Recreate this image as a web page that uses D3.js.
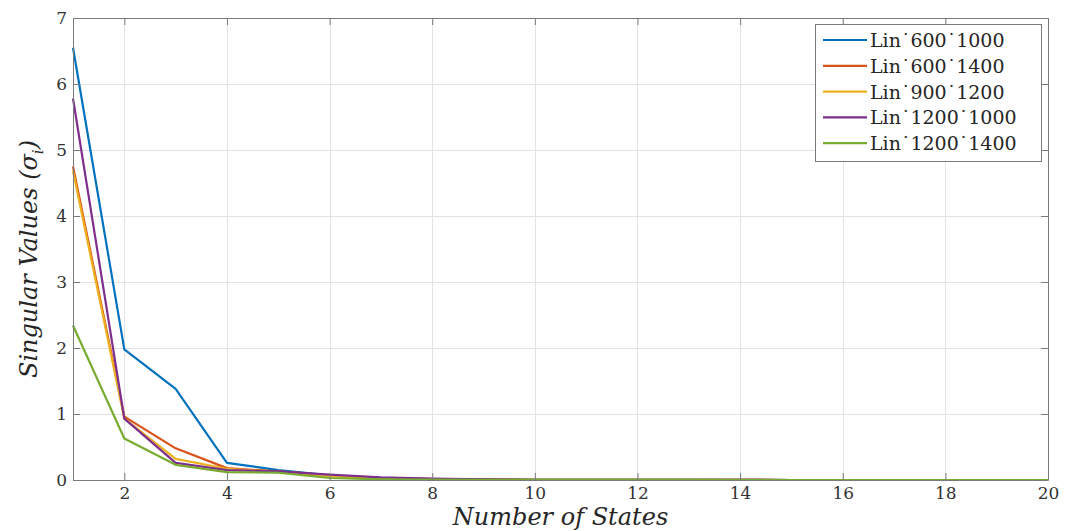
<!DOCTYPE html>
<html>
<head>
<meta charset="utf-8">
<script src="https://cdn.jsdelivr.net/npm/d3@7"></script>
<style>
  body { margin: 0; background: #fff; }
  svg { display: block; }
</style>
</head>
<body>
<svg id="chart" width="1067" height="531"></svg>
<script>
// Number of retained states
const states = d3.range(1, 21);

// Singular values per linearisation point
const lin600_1000  = [6.55, 1.98, 1.38, 0.26, 0.15, 0.07, 0.03, 0.015, 0.008, 0.004, 0.002, 0.001, 0.001, 0.0005, 0.0003, 0.0002, 0.0001, 0.0001, 0.0001, 0.0001];
const lin600_1400  = [4.75, 0.96, 0.48, 0.18, 0.13, 0.07, 0.03, 0.012, 0.006, 0.003, 0.002, 0.001, 0.001, 0.0005, 0.0003, 0.0002, 0.0001, 0.0001, 0.0001, 0.0001];
const lin900_1200  = [4.68, 0.93, 0.32, 0.17, 0.12, 0.06, 0.025, 0.01, 0.005, 0.003, 0.002, 0.001, 0.001, 0.0005, 0.0003, 0.0002, 0.0001, 0.0001, 0.0001, 0.0001];
const lin1200_1000 = [5.78, 0.93, 0.26, 0.15, 0.13, 0.08, 0.04, 0.02, 0.008, 0.004, 0.002, 0.001, 0.001, 0.0005, 0.0003, 0.0002, 0.0001, 0.0001, 0.0001, 0.0001];
const lin1200_1400 = [2.34, 0.63, 0.23, 0.12, 0.11, 0.03, 0.01, 0.005, 0.003, 0.002, 0.001, 0.001, 0.0005, 0.0003, 0.0002, 0.0001, 0.0001, 0.0001, 0.0001, 0.0001];

const seriesNames = ["Lin˙600˙1000", "Lin˙600˙1400", "Lin˙900˙1200", "Lin˙1200˙1000", "Lin˙1200˙1400"];
const seriesValues = [lin600_1000, lin600_1400, lin900_1200, lin1200_1000, lin1200_1400];
const seriesColors = ["#0072BD", "#D95319", "#EDB120", "#7E2F8E", "#77AC30"];

const xTicks = [2, 4, 6, 8, 10, 12, 14, 16, 18, 20];
const yTicks = [0, 1, 2, 3, 4, 5, 6, 7];

const serif = "'DejaVu Serif', 'Liberation Serif', serif";

const svg = d3.select("#chart");
const plotLeft = 73, plotRight = 1048, plotTop = 18, plotBottom = 480;

const x = d3.scaleLinear().domain([1, 20]).range([plotLeft, plotRight]);
const y = d3.scaleLinear().domain([0, 7]).range([plotBottom, plotTop]);

// Grid
const grid = svg.append("g").attr("stroke", "#e3e3e3").attr("stroke-width", 1);
grid.selectAll(".gx").data(xTicks.filter(d => d < 20)).join("line")
  .attr("x1", d => Math.round(x(d)) + 0.5).attr("x2", d => Math.round(x(d)) + 0.5)
  .attr("y1", plotTop).attr("y2", plotBottom);
grid.selectAll(".gy").data(yTicks.filter(d => d > 0 && d < 7)).join("line")
  .attr("y1", d => Math.round(y(d)) + 0.5).attr("y2", d => Math.round(y(d)) + 0.5)
  .attr("x1", plotLeft).attr("x2", plotRight);

// Series lines
const line = d3.line().x((d, i) => x(states[i])).y(d => y(d));
svg.append("g").selectAll("path").data(seriesValues).join("path")
  .attr("d", line)
  .attr("fill", "none")
  .attr("stroke", (d, i) => seriesColors[i])
  .attr("stroke-width", 2.2)
  .attr("stroke-linejoin", "round");

// Axes with inward ticks on all four sides
const tickLen = 7;
const axisColor = "#7a7a7a";
const fmt = d3.format("d");
const addAxis = (axis, tx, ty) => {
  const g = svg.append("g").attr("transform", `translate(${tx},${ty})`).call(axis);
  g.attr("font-family", serif).attr("font-size", 17);
  g.select(".domain").attr("stroke", axisColor);
  g.selectAll(".tick line").attr("stroke", axisColor);
  g.selectAll("text").attr("fill", "#333");
  return g;
};
addAxis(d3.axisBottom(x).tickValues(xTicks).tickSizeInner(-tickLen).tickSizeOuter(0).tickPadding(7).tickFormat(fmt), 0, plotBottom);
addAxis(d3.axisTop(x).tickValues(xTicks).tickSizeInner(-tickLen).tickSizeOuter(0).tickFormat(""), 0, plotTop);
addAxis(d3.axisLeft(y).tickValues(yTicks).tickSizeInner(-tickLen).tickSizeOuter(0).tickPadding(6).tickFormat(fmt), plotLeft, 0);
addAxis(d3.axisRight(y).tickValues(yTicks).tickSizeInner(-tickLen).tickSizeOuter(0).tickFormat(""), plotRight, 0);

// Axis labels
svg.append("text")
  .attr("x", (plotLeft + plotRight) / 2).attr("y", 525)
  .attr("text-anchor", "middle")
  .attr("font-family", serif).attr("font-size", 24).attr("font-style", "italic").attr("fill", "#262626")
  .text("Number of States");

const yLabel = svg.append("text")
  .attr("transform", `translate(37,${(plotTop + plotBottom) / 2 + 10}) rotate(-90)`)
  .attr("text-anchor", "middle")
  .attr("font-family", serif).attr("font-size", 24).attr("font-style", "italic").attr("fill", "#262626");
yLabel.append("tspan").text("Singular Values (σ");
yLabel.append("tspan").attr("dy", 6).attr("font-size", 15).text("i");
yLabel.append("tspan").attr("dy", -6).text(")");

// Legend
const lg = svg.append("g");
lg.append("rect")
  .attr("x", 815.5).attr("y", 24.5).attr("width", 226).attr("height", 137)
  .attr("fill", "#fff").attr("stroke", axisColor).attr("stroke-width", 1);
const rows = lg.selectAll("g.row").data(seriesNames).join("g")
  .attr("transform", (d, i) => `translate(0,${40 + i * 25.8})`);
rows.append("line")
  .attr("x1", 823).attr("x2", 867).attr("y1", 0).attr("y2", 0)
  .attr("stroke", (d, i) => seriesColors[i]).attr("stroke-width", 2.2);
rows.append("text")
  .attr("x", 870).attr("y", 7)
  .attr("font-family", serif).attr("font-size", 19).attr("fill", "#262626")
  .text(d => d);
</script>
</body>
</html>
